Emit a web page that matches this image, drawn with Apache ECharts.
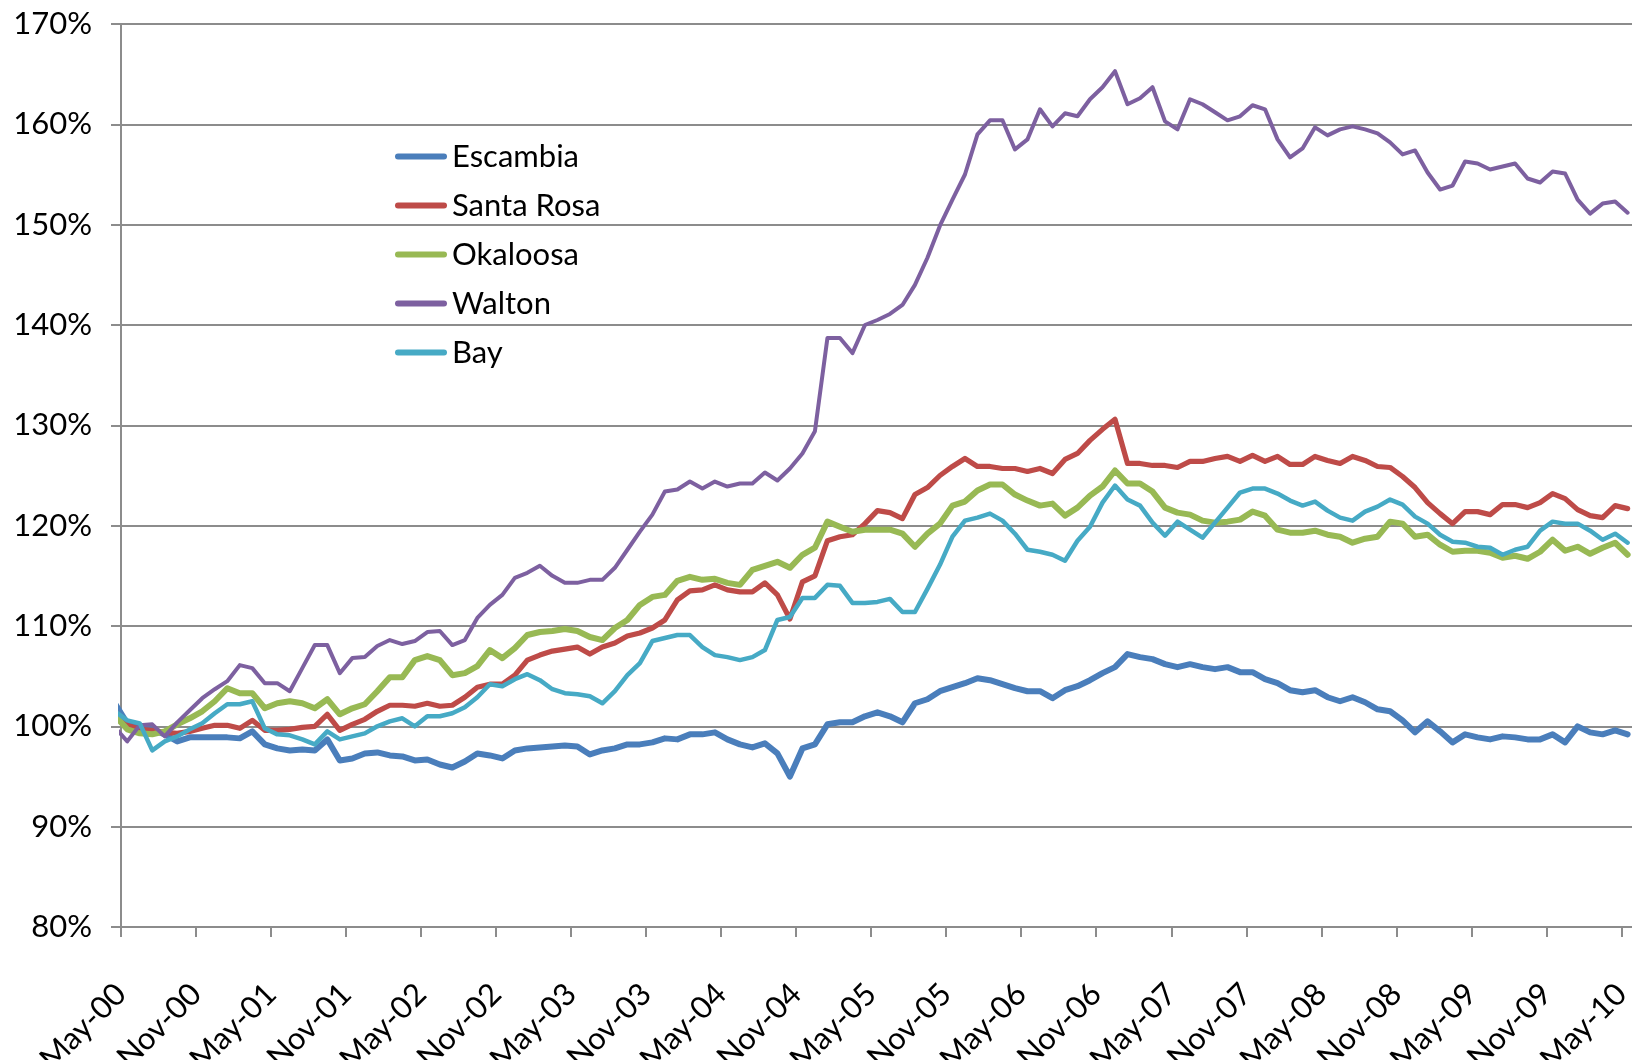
<!DOCTYPE html>
<html>
<head>
<meta charset="utf-8">
<title>County index, May-00 to May-10</title>
<script src="https://cdn.jsdelivr.net/npm/echarts@6/dist/echarts.min.js"></script>
<style>
  html, body { margin: 0; padding: 0; background: #fff; }
  #chart { width: 1632px; height: 1060px; }
</style>
</head>
<body>
<div id="chart"></div>
<script>
// tick labels, one every 6 months
const tickLabels = ['May-00', 'Nov-00', 'May-01', 'Nov-01', 'May-02', 'Nov-02', 'May-03', 'Nov-03',
  'May-04', 'Nov-04', 'May-05', 'Nov-05', 'May-06', 'Nov-06', 'May-07', 'Nov-07', 'May-08', 'Nov-08',
  'May-09', 'Nov-09', 'May-10']

// monthly values in %, the first one is the month before May-00 (only its segment up to the axis shows)
const escambia = [102.3,
  100.3, 99.9, 99.7, 99.2, 98.5, 98.9, 98.9, 98.9, 98.9, 98.8, 99.5, 98.2, 97.8, 97.6, 97.7, 97.6, 98.7, 96.6, 96.8, 97.3,
  97.4, 97.1, 97.0, 96.6, 96.7, 96.2, 95.9, 96.5, 97.3, 97.1, 96.8, 97.6, 97.8, 97.9, 98.0, 98.1, 98.0, 97.2, 97.6, 97.8,
  98.2, 98.2, 98.4, 98.8, 98.7, 99.2, 99.2, 99.4, 98.7, 98.2, 97.9, 98.3, 97.3, 95.0, 97.8, 98.2, 100.2, 100.4, 100.4, 101.0,
  101.4, 101.0, 100.4, 102.3, 102.7, 103.5, 103.9, 104.3, 104.8, 104.6, 104.2, 103.8, 103.5, 103.5, 102.8, 103.6, 104.0, 104.6, 105.3, 105.9,
  107.2, 106.9, 106.7, 106.2, 105.9, 106.2, 105.9, 105.7, 105.9, 105.4, 105.4, 104.7, 104.3, 103.6, 103.4, 103.6, 102.9, 102.5, 102.9, 102.4,
  101.7, 101.5, 100.6, 99.4, 100.5, 99.5, 98.4, 99.2, 98.9, 98.7, 99.0, 98.9, 98.7, 98.7, 99.2, 98.4, 100.0, 99.4, 99.2, 99.6, 99.2]

const santaRosa = [101.5,
  100.1, 99.7, 99.6, 99.4, 99.3, 99.5, 99.8, 100.1, 100.1, 99.8, 100.6, 99.6, 99.6, 99.7, 99.9, 100.0, 101.2, 99.6, 100.2, 100.7,
  101.5, 102.1, 102.1, 102.0, 102.3, 102.0, 102.1, 102.9, 103.9, 104.2, 104.2, 105.1, 106.6, 107.1, 107.5, 107.7, 107.9, 107.2, 107.9, 108.3,
  109.0, 109.3, 109.8, 110.6, 112.6, 113.5, 113.6, 114.1, 113.6, 113.4, 113.4, 114.3, 113.1, 110.7, 114.4, 115.0, 118.5, 118.9, 119.1, 120.2,
  121.5, 121.3, 120.7, 123.1, 123.8, 125.0, 125.9, 126.7, 125.9, 125.9, 125.7, 125.7, 125.4, 125.7, 125.2, 126.6, 127.2, 128.5, 129.6, 130.6,
  126.2, 126.2, 126.0, 126.0, 125.8, 126.4, 126.4, 126.7, 126.9, 126.4, 127.0, 126.4, 126.9, 126.1, 126.1, 126.9, 126.5, 126.2, 126.9, 126.5,
  125.9, 125.8, 124.9, 123.8, 122.3, 121.2, 120.2, 121.4, 121.4, 121.1, 122.1, 122.1, 121.8, 122.3, 123.2, 122.7, 121.6, 121.0, 120.8, 122.0, 121.7]

const okaloosa = [101.1,
  99.7, 99.3, 99.2, 99.5, 100.2, 100.8, 101.5, 102.5, 103.8, 103.3, 103.3, 101.8, 102.3, 102.5, 102.3, 101.8, 102.7, 101.2, 101.8, 102.2,
  103.5, 104.9, 104.9, 106.6, 107.0, 106.6, 105.1, 105.3, 106.0, 107.6, 106.8, 107.8, 109.1, 109.4, 109.5, 109.7, 109.5, 108.9, 108.6, 109.8,
  110.6, 112.1, 112.9, 113.1, 114.5, 114.9, 114.6, 114.7, 114.3, 114.1, 115.6, 116.0, 116.4, 115.8, 117.1, 117.8, 120.4, 119.9, 119.4, 119.6,
  119.6, 119.6, 119.2, 117.9, 119.2, 120.2, 122.0, 122.4, 123.5, 124.1, 124.1, 123.1, 122.5, 122.0, 122.2, 121.0, 121.8, 123.0, 123.9, 125.5,
  124.2, 124.2, 123.4, 121.8, 121.3, 121.1, 120.5, 120.3, 120.4, 120.6, 121.4, 121.0, 119.6, 119.3, 119.3, 119.5, 119.1, 118.9, 118.3, 118.7,
  118.9, 120.4, 120.2, 118.9, 119.1, 118.1, 117.4, 117.5, 117.5, 117.3, 116.8, 117.0, 116.7, 117.4, 118.6, 117.5, 117.9, 117.2, 117.8, 118.3, 117.1]

const walton = [99.9,
  98.5, 100.1, 100.2, 99.0, 100.4, 101.6, 102.8, 103.7, 104.5, 106.1, 105.8, 104.3, 104.3, 103.5, 105.8, 108.1, 108.1, 105.3, 106.8, 106.9,
  108.0, 108.6, 108.2, 108.5, 109.4, 109.5, 108.1, 108.6, 110.8, 112.1, 113.1, 114.8, 115.3, 116.0, 115.0, 114.3, 114.3, 114.6, 114.6, 115.8,
  117.6, 119.4, 121.1, 123.4, 123.6, 124.4, 123.7, 124.4, 123.9, 124.2, 124.2, 125.3, 124.5, 125.7, 127.2, 129.4, 138.7, 138.7, 137.2, 140.0,
  140.5, 141.1, 142.0, 144.0, 146.7, 149.9, 152.5, 155.0, 159.0, 160.4, 160.4, 157.5, 158.5, 161.5, 159.8, 161.1, 160.8, 162.5, 163.7, 165.3,
  162.0, 162.6, 163.7, 160.3, 159.5, 162.5, 162.0, 161.2, 160.4, 160.8, 161.9, 161.5, 158.5, 156.7, 157.6, 159.7, 158.9, 159.5, 159.8, 159.5,
  159.1, 158.2, 157.0, 157.4, 155.2, 153.5, 153.9, 156.3, 156.1, 155.5, 155.8, 156.1, 154.6, 154.2, 155.3, 155.1, 152.5, 151.1, 152.1, 152.3, 151.2]

const bay = [101.5,
  100.6, 100.3, 97.6, 98.5, 99.0, 99.7, 100.3, 101.3, 102.2, 102.2, 102.5, 99.8, 99.2, 99.1, 98.7, 98.2, 99.5, 98.7, 99.0, 99.3,
  100.0, 100.5, 100.8, 100.0, 101.0, 101.0, 101.3, 101.9, 102.9, 104.2, 104.0, 104.7, 105.2, 104.6, 103.7, 103.3, 103.2, 103.0, 102.3, 103.5,
  105.1, 106.3, 108.5, 108.8, 109.1, 109.1, 107.9, 107.1, 106.9, 106.6, 106.9, 107.6, 110.6, 110.9, 112.8, 112.8, 114.1, 114.0, 112.3, 112.3,
  112.4, 112.7, 111.4, 111.4, 113.7, 116.1, 118.9, 120.5, 120.8, 121.2, 120.5, 119.2, 117.6, 117.4, 117.1, 116.5, 118.5, 119.9, 122.3, 124.0,
  122.6, 122.0, 120.3, 119.0, 120.4, 119.6, 118.8, 120.3, 121.8, 123.3, 123.7, 123.7, 123.2, 122.5, 122.0, 122.4, 121.5, 120.8, 120.5, 121.4,
  121.9, 122.6, 122.1, 120.9, 120.2, 119.1, 118.4, 118.3, 117.9, 117.8, 117.1, 117.6, 117.9, 119.5, 120.4, 120.2, 120.2, 119.5, 118.6, 119.2, 118.3]

const countyNames = ['Escambia', 'Santa Rosa', 'Okaloosa', 'Walton', 'Bay']
const countyValues = [escambia, santaRosa, okaloosa, walton, bay]
const countyColors = ['#4A7EBB', '#BE4B48', '#98B954', '#7D60A0', '#46AAC5']
const lineWidths = [6, 5.2, 6, 4, 4.5]

const font = 'Lato'

// x is months since May-00; each monthly point sits half a month after its tick
function toPoints(values) {
  return values.map((v, i) => [i - 0.5, v])
}

const chart = echarts.init(document.getElementById('chart'))

const option = {
  animation: false,
  backgroundColor: '#fff',
  grid: {
    left: 121,
    right: 0,
    top: 24,
    bottom: 133,
    containLabel: false,
    outerBoundsMode: 'none'
  },
  legend: {
    orient: 'vertical',
    left: 395,
    top: 141,
    padding: 0,
    itemWidth: 52,
    itemHeight: 6,
    itemGap: 18,
    icon: 'path://M3,0L49,0A3,3,0,0,1,49,6L3,6A3,3,0,0,1,3,0Z',
    textStyle: { fontFamily: font, fontSize: 31, color: '#000' },
    data: countyNames
  },
  xAxis: {
    type: 'value',
    min: 0,
    max: 120.85,
    interval: 6,
    axisLine: { show: true, lineStyle: { color: '#8c8c8c', width: 2 } },
    axisTick: { show: true, inside: false, length: 10, lineStyle: { color: '#8c8c8c', width: 2 } },
    splitLine: { show: false },
    axisLabel: {
      rotate: 45,
      margin: 62,
      showMaxLabel: false,
      fontFamily: font,
      fontSize: 31,
      color: '#000',
      formatter: function (v) {
        if (Math.abs(v % 6) > 1e-6) return ''
        return tickLabels[Math.round(v / 6)] || ''
      }
    }
  },
  yAxis: {
    type: 'value',
    min: 80,
    max: 170,
    interval: 10,
    axisLine: { show: true, lineStyle: { color: '#8c8c8c', width: 2 } },
    axisTick: { show: true, inside: false, length: 10, lineStyle: { color: '#8c8c8c', width: 2 } },
    splitLine: { show: true, lineStyle: { color: '#8c8c8c', width: 2 } },
    axisLabel: {
      margin: 29,
      fontFamily: font,
      fontSize: 31,
      color: '#000',
      formatter: '{value}%'
    }
  },
  series: countyNames.map((name, i) => ({
    name: name,
    type: 'line',
    data: toPoints(countyValues[i]),
    showSymbol: false,
    symbol: 'none',
    clip: true,
    itemStyle: { color: countyColors[i] },
    lineStyle: { color: countyColors[i], width: lineWidths[i], cap: 'round', join: 'round' },
    emphasis: { disabled: true }
  }))
}

chart.setOption(option)
</script>
</body>
</html>
